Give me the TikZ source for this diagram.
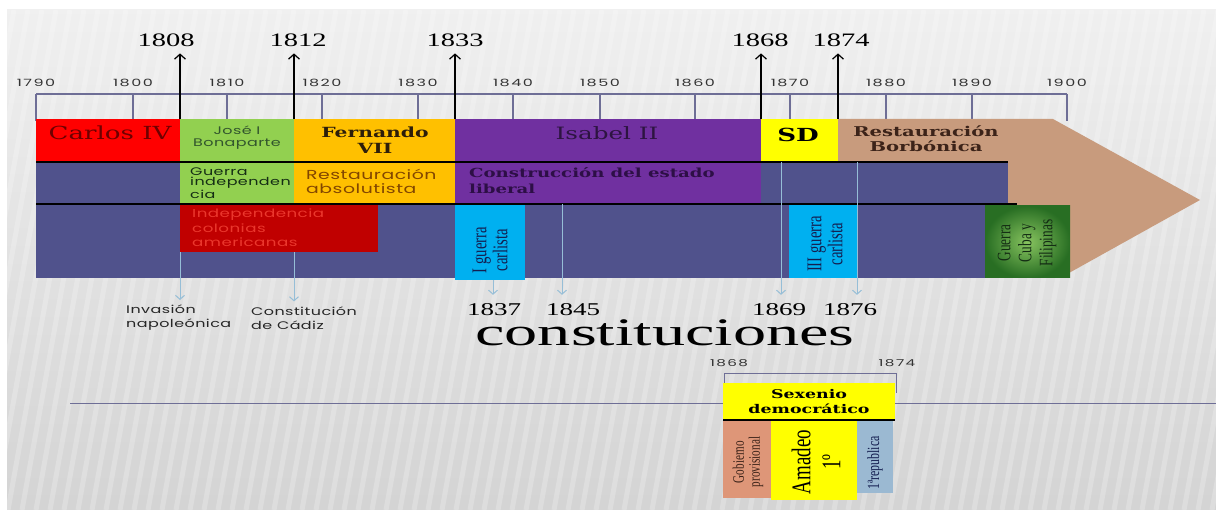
\documentclass[tikz,border=0pt]{standalone}
\usepackage{fontspec}
\usepackage{tikz}
\usetikzlibrary{arrows.meta,positioning,calc}
\newfontfamily\geofont[FakeStretch=1.45,LetterSpace=4]{Poppins}
\newfontfamily\tickfont[FakeStretch=1.6,LetterSpace=15]{Poppins}
\newfontfamily\boxfont[FakeStretch=1.45]{DejaVu Serif}
\newfontfamily\yearfont[FakeStretch=1.5]{Liberation Serif}
\newfontfamily\constfont[FakeStretch=1.7]{Liberation Serif}
\newfontfamily\narrowfont[FakeStretch=0.7]{Liberation Serif}
\newcommand\fsz[2]{\fontsize{#1}{#2}\selectfont}
\definecolor{navybar}{RGB}{80,82,140}
\definecolor{tanarrow}{RGB}{200,155,125}
\definecolor{carlosred}{RGB}{255,0,0}
\definecolor{josegreen}{RGB}{146,208,80}
\definecolor{fernorange}{RGB}{255,192,0}
\definecolor{isapurple}{RGB}{112,48,160}
\definecolor{sdyellow}{RGB}{255,255,0}
\definecolor{coldred}{RGB}{192,0,0}
\definecolor{carlcyan}{RGB}{0,176,240}
\definecolor{axisblue}{RGB}{110,110,150}
\definecolor{constblue}{RGB}{150,190,215}
\definecolor{gobsalmon}{RGB}{222,150,120}
\definecolor{repblue}{RGB}{155,185,210}
\definecolor{cubadark}{RGB}{40,110,35}
\definecolor{cubalight}{RGB}{135,195,95}
\definecolor{carlostxt}{RGB}{110,0,0}
\definecolor{josetxt}{RGB}{50,85,45}
\definecolor{ferntxt}{RGB}{45,30,10}
\definecolor{isatxt}{RGB}{45,20,65}
\definecolor{restxt}{RGB}{60,35,25}
\definecolor{absotxt}{RGB}{130,70,0}
\definecolor{constrtxt}{RGB}{45,15,70}
\definecolor{indeptxt}{RGB}{235,55,45}
\definecolor{carltxt}{RGB}{20,30,80}
\definecolor{cubatxt}{RGB}{20,45,20}

\begin{document}
\begin{tikzpicture}[x=1pt,y=-1pt,inner sep=1pt,
	yeartick/.style={draw=axisblue,line width=1.3},
	smallyr/.style={font=\tickfont\fsz{10}{10},text=black!80,anchor=base},
	bigyr/.style={font=\yearfont\fsz{19}{19},anchor=base},
	uparrow/.style={-{Straight Barb[length=5pt,width=11pt]},line width=1.2,shorten >=5pt},
	downarrow/.style={draw=constblue,line width=1,-{Straight Barb[length=4pt,width=9pt]},shorten >=4pt},
	rot/.style={rotate=90,font=\narrowfont,align=center}]
	\useasboundingbox (0,0) rectangle (1216,510);
	\fill[white] (0,0) rectangle (1216,510);
	% fondo gris con rayas
	\shade[top color=gray!12,bottom color=gray!34] (7,10) rectangle (1216,510);
	\begin{scope}
		\clip (7,10) rectangle (1216,510);
		\foreach \s in {0,14,...,1400}
			\draw[white,opacity=.22,line width=5] (\s,10) -- ({\s-90},510);
	\end{scope}
	\draw[axisblue,line width=1] (70,404) -- (1216,404);
	% eje de decadas
	\draw[axisblue,line width=1.3] (36,94) -- (1067,94);
	\foreach \x/\yr in {36/1790,133/1800,227/1810,322/1820,418/1830,513/1840,600/1850,695/1860,790/1870,886/1880,972/1890,1067/1900}{
		\draw[yeartick] (\x,94) -- (\x,121);
		\node[smallyr] (t\yr) at (\x,87) {\yr};
	}
	% flecha de la restauracion
	\fill[tanarrow] (838,119) -- (1053,119) -- (1200,200) -- (1060,278) -- (838,278) -- cycle;
	\fill[navybar] (36,162) rectangle (1008,278);
	% reinados
	\fill[carlosred] (36,119) rectangle (180,162);
	\fill[josegreen] (180,119) rectangle (294,204);
	\fill[fernorange] (294,119) rectangle (455,204);
	\fill[isapurple] (455,119) rectangle (761,204);
	\fill[sdyellow] (761,119) rectangle (838,162);
	% conflictos
	\fill[coldred] (180,204) rectangle (378,252);
	\fill[carlcyan] (455,204) rectangle (525,280);
	\fill[carlcyan] (789,204) rectangle (858,278);
	\shade[inner color=cubalight,outer color=cubadark] (985,206) rectangle (1070,278);
	\draw[black,line width=1.5] (36,162) -- (1008,162);
	\draw[black,line width=1.5] (36,204) -- (1017,204);
	% textos de las bandas
	\node[font=\boxfont\fsz{18}{18},text=carlostxt,anchor=base] (carlos) at (110,140) {Carlos IV};
	\node[font=\geofont\fsz{11}{12},text=josetxt,align=center] (jose) at (237,138) {José I\\Bonaparte};
	\node[font=\boxfont\bfseries\fsz{14}{16},text=ferntxt,align=center] (fernando) at (375,140) {Fernando\\VII};
	\node[font=\boxfont\fsz{17}{17},text=isatxt,anchor=base] (isabel) at (607,140) {Isabel II};
	\node[font=\boxfont\bfseries\fsz{18}{18},anchor=base] (sd) at (798,142) {SD};
	\node[font=\boxfont\bfseries\fsz{13.5}{15},text=restxt,align=center] (restbor) at (926,139) {Restauración\\Borbónica};
	\node[font=\geofont\fsz{11}{10.5},text=cubatxt,align=left,anchor=west] (guerraind) at (189,183) {Guerra\\independen\\cia};
	\node[font=\geofont\fsz{13}{14},text=absotxt,align=left,anchor=west] (restabs) at (305,181) {Restauración\\absolutista};
	\node[font=\boxfont\bfseries\fsz{12.5}{16},text=constrtxt,align=left,anchor=west] (estado) at (468,181) {Construcción del estado\\liberal};
	\node[font=\geofont\fsz{11.5}{14.5},text=indeptxt,align=left,anchor=west] (indep) at (191,228) {Independencia\\colonias\\americanas};
	\node[rot,font=\narrowfont\fsz{21}{21},text=carltxt] (iguerra) at (490,250) {I guerra\\carlista};
	\node[rot,font=\narrowfont\fsz{21}{21},text=carltxt] (iiiguerra) at (825,244) {III guerra\\carlista};
	\node[rot,font=\narrowfont\fsz{19}{21},text=cubatxt] (cuba) at (1027,243) {Guerra\\Cuba y\\Filipinas};
	% fechas clave
	\foreach \x/\yr/\lx in {180/1808/166,294/1812/298,455/1833/455,761/1868/760,838/1874/841}{
		\node[bigyr] (y\yr) at (\lx,47) {\yr};
		\coordinate (a\yr) at (\x,119);
		\draw[uparrow] (a\yr) -- (a\yr |- y\yr.south);
	}
	% constituciones
	\node[font=\geofont\fsz{11}{14},text=black!85,align=left,anchor=west] (invasion) at (125,318) {Invasión\\napoleónica};
	\node[font=\geofont\fsz{11}{14},text=black!85,align=left,anchor=west] (cadiz) at (250,318) {Constitución\\de Cádiz};
	\coordinate (d1808) at (180,252);
	\coordinate (d1812) at (294,252);
	\draw[downarrow] (d1808) -- (d1808 |- invasion.north);
	\draw[downarrow] (d1812) -- (d1812 |- cadiz.north);
	\foreach \x/\yr/\lx/\top in {493/1837/494/280,562/1845/573/204,781/1869/779/162,857/1876/850/162}{
		\node[bigyr,font=\yearfont\fsz{18}{18}] (c\yr) at (\lx,316) {\yr};
		\coordinate (d\yr) at (\x,\top);
		\draw[downarrow,shorten >=8pt] (d\yr) -- (d\yr |- c\yr.north);
	}
	\node[anchor=base,font=\constfont\fsz{39}{39}] (constit) at (665,346) {constituciones};
	% sexenio democratico
	\node[smallyr,font=\tickfont\fsz{9.5}{9.5}] (s1868) at (729,367) {1868};
	\node[smallyr,font=\tickfont\fsz{9.5}{9.5}] (s1874) at (897,367) {1874};
	\draw[axisblue] (724,385) -- (724,373) -- (896,373) -- (896,393);
	\fill[sdyellow] (723,383) rectangle (895,420);
	\draw[black,line width=2] (723,420) -- (895,420);
	\fill[gobsalmon] (723,421) rectangle (771,498);
	\fill[sdyellow] (771,421) rectangle (857,500);
	\fill[repblue] (857,421) rectangle (893,493);
	\node[font=\boxfont\bfseries\fsz{12}{15},align=center] (sexenio) at (809,402) {Sexenio\\democrático};
	\node[rot,font=\narrowfont\fsz{16}{16},text=restxt] (gobierno) at (748,462) {Gobierno\\provisional};
	\node[rot,font=\narrowfont\fsz{27}{30}] (amadeo) at (816,462) {Amadeo\\1º};
	\node[rot,font=\narrowfont\fsz{17}{17},text=carltxt] (republica) at (875,463) {1ªrepublica};
\end{tikzpicture}
\end{document}
